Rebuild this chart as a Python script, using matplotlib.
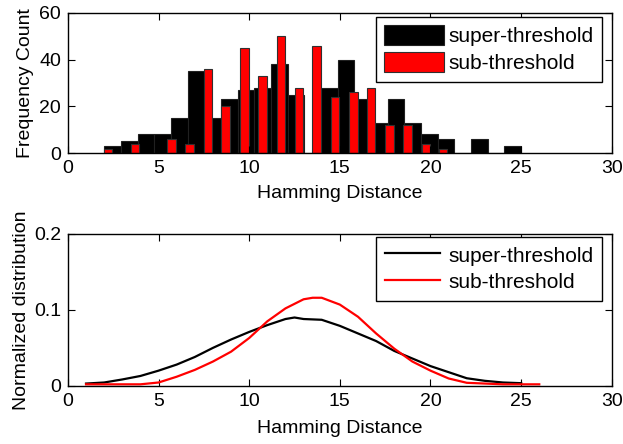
import numpy as np
import matplotlib
matplotlib.use('Agg')
import matplotlib.pyplot as plt

plt.rcParams['font.family'] = ['Liberation Sans', 'DejaVu Sans']
plt.rcParams['font.size'] = 14

# histogram of super-threshold hamming distances (25 bins over 2..25)
super_edges = np.linspace(2, 25, 26)
super_counts = [3, 5, 8, 8, 15, 35, 15, 23, 27, 28, 38, 25, 0, 28, 40,
                23, 13, 23, 13, 8, 6, 0, 6, 0, 3]

# sub-threshold histogram, bar centres and counts
sub_centers = [2.22, 3.71, 5.72, 6.71, 7.73, 8.70, 9.75, 10.73, 11.76,
               12.74, 13.72, 14.75, 15.75, 16.73, 17.74, 18.73, 19.74, 20.70]
sub_counts = [2, 4, 6, 4, 36, 20, 45, 33, 50, 28, 46, 24, 26, 28, 12, 12, 4, 2]

# normalized distributions
super_x = [1, 2, 3, 4, 5, 6, 7, 8, 9, 10, 11, 12, 12.5, 13, 14, 15, 16, 17,
           18, 19, 20, 21, 22, 23, 24, 25]
super_y = [0.003, 0.0044, 0.0084, 0.013, 0.020, 0.028, 0.038, 0.050, 0.061,
           0.071, 0.080, 0.088, 0.090, 0.088, 0.087, 0.079, 0.069, 0.059,
           0.046, 0.036, 0.026, 0.018, 0.010, 0.0066, 0.0044, 0.0035]
sub_x = [1, 2, 3, 4, 5, 6, 7, 8, 9, 10, 11, 12, 13, 13.5, 14, 15, 16, 17,
         18, 19, 20, 21, 22, 23, 24, 25, 26]
sub_y = [0.002, 0.002, 0.002, 0.002, 0.0044, 0.012, 0.021, 0.032, 0.045,
         0.063, 0.085, 0.102, 0.114, 0.116, 0.116, 0.107, 0.091, 0.069,
         0.049, 0.032, 0.020, 0.0097, 0.004, 0.003, 0.002, 0.002, 0.002]

labels = ['super-threshold', 'sub-threshold']

fig = plt.figure(figsize=(6.23, 4.44), dpi=100)
ax1 = fig.add_axes([0.109, 0.655, 0.873, 0.316])
ax2 = fig.add_axes([0.109, 0.131, 0.873, 0.342])

widths = np.diff(super_edges)
ax1.bar(super_edges[:-1], super_counts, width=widths, align='edge',
        color='black', edgecolor='#202020', linewidth=0.8, label=labels[0])
ax1.bar(sub_centers, sub_counts, width=0.46, color='#ff0000',
        edgecolor='#303030', linewidth=0.8, label=labels[1])
ax1.set_xlim(0, 30)
ax1.set_ylim(0, 60)
ax1.set_xticks([0, 5, 10, 15, 20, 25, 30])
ax1.set_yticks([0, 20, 40, 60])
ax1.set_xlabel('Hamming Distance', labelpad=6)
ax1.set_ylabel('Frequency Count', labelpad=4)
leg1 = ax1.legend(loc='upper right', bbox_to_anchor=(0.9816, 0.971),
                  borderaxespad=0, fancybox=False, framealpha=1,
                  edgecolor='black', fontsize=15, handlelength=2.84,
                  handleheight=1.06, labelspacing=0.3, borderpad=0.4,
                  handletextpad=0.23)
leg1.get_frame().set_linewidth(1.0)

ax2.plot(super_x, super_y, color='black', linewidth=1.6, label=labels[0])
ax2.plot(sub_x, sub_y, color='#ff0000', linewidth=1.6, label=labels[1])
ax2.set_xlim(0, 30)
ax2.set_ylim(0, 0.2)
ax2.set_xticks([0, 5, 10, 15, 20, 25, 30])
ax2.set_yticks([0, 0.1, 0.2])
ax2.set_yticklabels(['0', '0.1', '0.2'])
ax2.set_xlabel('Hamming Distance', labelpad=7)
ax2.set_ylabel('Normalized distribution', labelpad=3)
leg2 = ax2.legend(loc='upper right', bbox_to_anchor=(0.9816, 0.982),
                  borderaxespad=0, fancybox=False, framealpha=1,
                  edgecolor='black', fontsize=15, handlelength=2.64,
                  handleheight=1.0, labelspacing=0.3, borderpad=0.4,
                  handletextpad=0.42)
leg2.get_frame().set_linewidth(1.0)

for ax in (ax1, ax2):
    ax.tick_params(direction='in', top=True, right=True, length=5,
                   width=0.8, pad=5)
    for s in ax.spines.values():
        s.set_linewidth(1.0)

fig.savefig('out.png', dpi=100)
